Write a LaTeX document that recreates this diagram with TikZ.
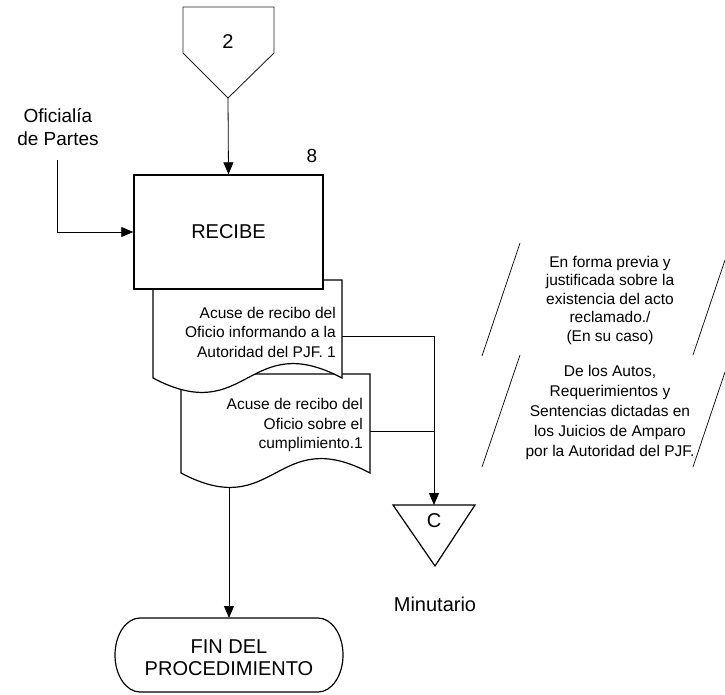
\documentclass[tikz,border=0pt]{standalone}
\usepackage{fontspec}
\setmainfont{Liberation Sans}
\usetikzlibrary{arrows.meta}
\begin{document}
\begin{tikzpicture}[x=1pt,y=-1pt,
  outline/.style={line width=1.2pt, draw=black, fill=white, line join=miter},
  thinoutline/.style={line width=0.9pt, draw=black!85, fill=white},
  flow/.style={line width=0.8pt, -{Triangle[length=12pt,width=10pt]}},
  plain/.style={line width=0.8pt},
  small/.style={font=\fontsize{15.5}{19.5}\selectfont, inner sep=0pt},
  big/.style={font=\fontsize{20}{22}\selectfont, inner sep=0pt},
  slash/.style={line width=0.7pt}]
\useasboundingbox (0,0) rectangle (725,694);

% off-page connector "2"
\draw[thinoutline] (183,7) -- (274,7) -- (274,53) -- (228,98) -- (183,53) -- cycle;
\node[big] (offlabel) at (228,42) {2};
\coordinate (offtip) at (228,98);

% incoming source
\node[big, align=center, font=\fontsize{19}{23}\selectfont] (ofi) at (58,127) {Oficialía\\de Partes};
\coordinate (ofistart) at (57,160);

% second document (drawn first, lies underneath)
\draw[outline] (181,374) -- (370,374) -- (370,473)
  .. controls (275.5,423) and (275.5,523) .. (181,473) -- cycle;
\node[small, align=right, anchor=east] (doc2) at (363,425)
  {Acuse de recibo del\\Oficio sobre el\\cumplimiento.1};

% first document
\draw[outline] (153,280) -- (342,280) -- (342,378)
  .. controls (247.5,328) and (247.5,428) .. (153,378) -- cycle;
\node[small, align=right, anchor=east] (doc1) at (336,332)
  {Acuse de recibo del\\Oficio informando a la\\Autoridad del PJF. 1};

% process box
\node[outline, line width=1.4pt, minimum width=189pt, minimum height=114pt, inner sep=0pt,
      font=\fontsize{20}{24}\selectfont] (recibe) at (228.5,232) {RECIBE};
\node[big, font=\fontsize{19}{22}\selectfont] (stepnum) at (312,156) {8};

% connector points on the documents
\coordinate (d1e) at (342,336);
\coordinate (d2e) at (370,431);
\coordinate (d2b) at (229,488);
\coordinate (j2) at (434,431);

% file triangle "C"
\draw[outline] (393,505) -- (475,505) -- (435,566) -- cycle;
\coordinate (ctop) at (434,505);
\node[big] (clabel) at (434,521) {C};
\node[big] (minut) at (435,604) {Minutario};

% terminator
\draw[outline] (140,618) -- (318,618)
  .. controls (331.8,618) and (343,634.6) .. (343,655)
  .. controls (343,675.4) and (331.8,692) .. (318,692)
  -- (140,692)
  .. controls (126.2,692) and (115,675.4) .. (115,655)
  .. controls (115,634.6) and (126.2,618) .. (140,618) -- cycle;
\node[big, align=center] (fin) at (229,657.5) {FIN DEL\\PROCEDIMIENTO};
\coordinate (fintop) at (229,618);

% connectors
\draw[flow] (offtip) -- (recibe.north);
\draw[flow] (ofistart) |- (recibe.west);
\draw[flow] (d1e) -| (ctop);
\draw[plain] (d2e) -- (j2);
\draw[flow] (d2b) -- (fintop);

% annotations
\coordinate (s1a) at (482,356); \coordinate (s1b) at (520,243);
\coordinate (s2a) at (693,355); \coordinate (s2b) at (725,260);
\coordinate (s3a) at (482,467); \coordinate (s3b) at (520,355);
\coordinate (s4a) at (693,467); \coordinate (s4b) at (725,372);
\draw[slash] (s1a) -- (s1b);
\draw[slash] (s2a) -- (s2b);
\draw[slash] (s3a) -- (s3b);
\draw[slash] (s4a) -- (s4b);
\node[small, align=center, font=\fontsize{15.5}{18.5}\selectfont] (note1) at (610,300)
  {En forma previa y\\justificada sobre la\\existencia del acto\\reclamado./\\(En su caso)};
\node[small, align=center, font=\fontsize{15.5}{20}\selectfont] (note2) at (610,412)
  {De los Autos,\\Requerimientos y\\Sentencias dictadas en\\los Juicios de Amparo\\por la Autoridad del PJF.};
\end{tikzpicture}
\end{document}
